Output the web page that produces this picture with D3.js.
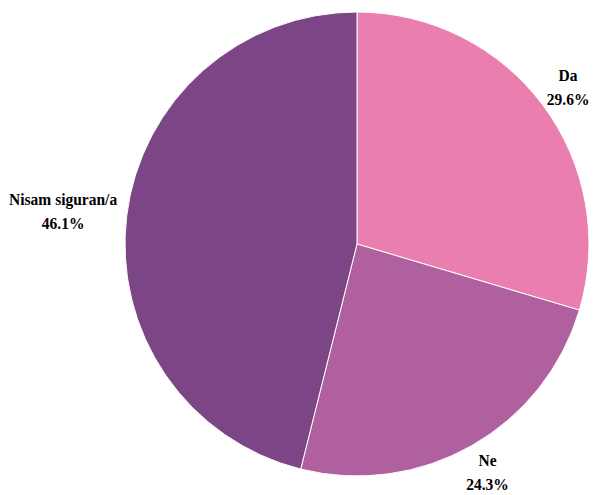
<!DOCTYPE html>
<html><head><meta charset="utf-8">
<script src="https://cdn.jsdelivr.net/npm/d3@7"></script>
<style>body{margin:0;background:#fff}
.lbl{font-family:"Liberation Serif","Times New Roman","DejaVu Serif",serif;font-weight:bold;font-size:16px;fill:#000}</style>
</head><body>
<svg id="c" width="595" height="495"></svg>
<script>
const categories = ["Da", "Ne", "Nisam siguran/a"];
const values = [29.6, 24.3, 46.1];
const colors = ["#E97EAF", "#B0609F", "#7C4586"];

const svg = d3.select("#c");
const cx = 357, cy = 244, R = 232;
const g = svg.append("g").attr("transform", `translate(${cx},${cy})`);
const pie = d3.pie().sort(null).value(d => d.v);
const data = pie(categories.map((c, i) => ({c, v: values[i], col: colors[i]})));
const arc = d3.arc().innerRadius(0).outerRadius(R);
g.selectAll("path").data(data).join("path")
  .attr("d", arc).attr("fill", d => d.data.col)
  .attr("stroke", "#fff").attr("stroke-width", 1);

const LR = 242, sx = 0.97;
const lg = g.selectAll("g.lab").data(data).join("g").attr("class", "lab");
lg.each(function(d) {
  const a = (d.startAngle + d.endAngle) / 2;
  const sel = d3.select(this);
  const t = sel.append("text").attr("class", "lbl").attr("text-anchor", "middle");
  t.append("tspan").attr("x", 0).attr("y", 0).text(d.data.c);
  t.append("tspan").attr("x", 0).attr("y", 24).text(d3.format(".1f")(d.data.v) + "%");
  const bb = t.node().getBBox();
  const w = bb.width * sx, h = bb.height;
  const px = LR * Math.sin(a) + (w / 2) * Math.sin(a);
  const py = -LR * Math.cos(a) - (h / 2) * Math.cos(a);
  const ox = px - sx * (bb.x + bb.width / 2), oy = py - (bb.y + h / 2);
  t.attr("transform", `translate(${ox},${oy}) scale(${sx},1)`);
});
</script>
</body></html>
